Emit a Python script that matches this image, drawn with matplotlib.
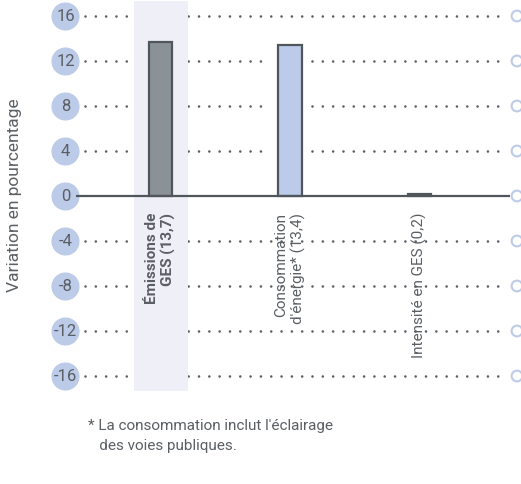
import matplotlib
matplotlib.use("Agg")
import matplotlib.pyplot as plt

# categories and values
labels = ["Émissions de\nGES (13,7)", "Consommation\nd'énergie* (13,4)", "Intensité en GES (0,2)"]
values = [13.7, 13.4, 0.2]
ticks = [16, 12, 8, 4, 0, -4, -8, -12, -16]

fill = ["#8b9297", "#bccbea", "#8b9297"]
edge = "#50565b"
text_col = "#5a5f64"
circ = "#bccbe8"

plt.rcParams["font.family"] = ["Roboto", "DejaVu Sans"]

fig = plt.figure(figsize=(5.21, 4.85), dpi=100)
ax = fig.add_axes([0, 0, 1, 1])
ax.set_axis_off()
# x: one unit per bar spacing, y: percent
ax.set_xlim(-1.2394, 2.7838)
ax.set_ylim(-25.6, 17.51)

x = list(range(len(values)))
w = 0.185

# shaded band behind the first bar
ax.bar(0, 34.6, bottom=-17.3, width=0.417, color="#eff0f7", zorder=2)

# dotted grid lines with circles at both ends
for t in ticks:
    if t != 0:
        ax.plot([-0.583, 2.66], [t, t], color=text_col, lw=1.9,
                dashes=(0.01, 3.9), dash_capstyle="round", zorder=1)
    ax.scatter([-0.734], [t], s=370, color=circ, zorder=3, clip_on=False)
    ax.text(-0.734, t, str(t), ha="center", va="center", fontsize=12,
            color=text_col, zorder=4)
    ax.scatter([2.753], [t], s=60, facecolor="none", edgecolor=circ,
               linewidth=1.5, zorder=3, clip_on=False)

# white gap around the bars so the dots stop short of them
for xi, v in zip(x[1:], values[1:]):
    ax.bar(xi, v, width=0.31, color="white", zorder=2)

ax.bar(x, values, width=w, color=fill, edgecolor=edge, linewidth=1.6, zorder=5)
ax.plot([-0.65, 2.699], [0, 0], color=edge, lw=1.6, zorder=6, solid_capstyle="butt")

for xi, lab, wt in zip(x, labels, ["bold", "normal", "normal"]):
    ax.text(xi, -1.4, lab, rotation=90, ha="center", va="top",
            multialignment="right", fontsize=11, color=text_col,
            fontweight=wt, zorder=7, linespacing=1.2)

fig.text(15 / 521, 1 - 195 / 485, "Variation en pourcentage", rotation=90,
         ha="center", va="center", fontsize=12.5, color=text_col)
fig.text(88 / 521, 1 - 436 / 485, "* La consommation inclut l'éclairage\n   des voies publiques.",
         ha="left", va="center", fontsize=11, color=text_col, linespacing=1.6)

fig.savefig("out.png", dpi=100)
